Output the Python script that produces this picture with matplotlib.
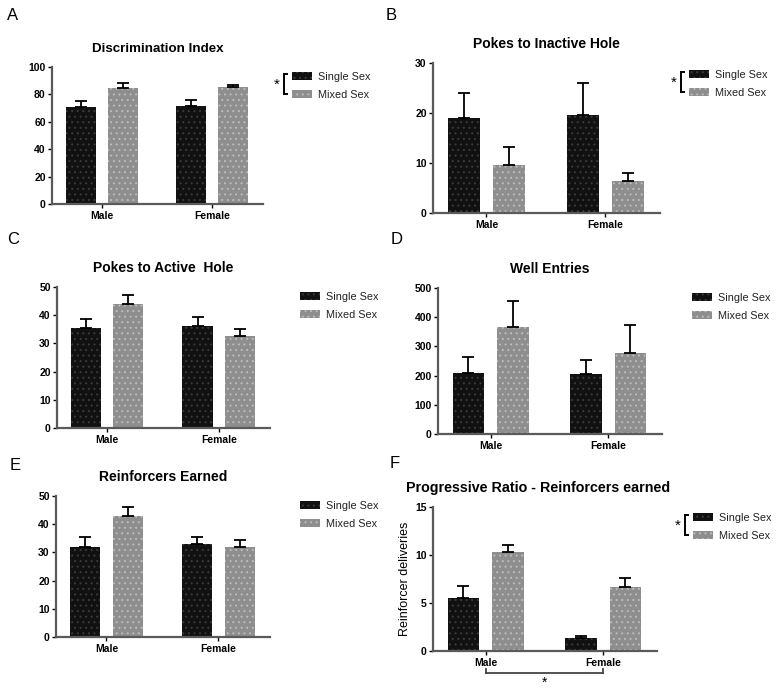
import matplotlib
matplotlib.use('Agg')
import matplotlib.pyplot as plt
import matplotlib.patches as mpatches
from matplotlib.lines import Line2D
import numpy as np

plt.rcParams['font.family'] = ['Liberation Sans', 'DejaVu Sans']
plt.rcParams['hatch.linewidth'] = 0.7

# data (means and upper SEM)
groups = ['Male', 'Female']
series = ['Single Sex', 'Mixed Sex']

disc_single = [70.5, 71.5]
disc_single_err = [4.5, 4.5]
disc_mixed = [85.0, 85.5]
disc_mixed_err = [3.5, 1.5]

inactive_single = [19.0, 19.6]
inactive_single_err = [5.0, 6.4]
inactive_mixed = [9.7, 6.5]
inactive_mixed_err = [3.6, 1.5]

active_single = [35.5, 36.0]
active_single_err = [3.0, 3.5]
active_mixed = [44.0, 32.5]
active_mixed_err = [3.0, 2.5]

wells_single = [210, 205]
wells_single_err = [55, 50]
wells_mixed = [365, 278]
wells_mixed_err = [90, 97]

reinf_single = [32.0, 33.0]
reinf_single_err = [3.5, 2.5]
reinf_mixed = [43.0, 32.0]
reinf_mixed_err = [3.0, 2.5]

pr_single = [5.5, 1.4]
pr_single_err = [1.3, 0.2]
pr_mixed = [10.3, 6.7]
pr_mixed_err = [0.7, 0.9]

W, H = 781, 691
BLACK, BLACK_DOT = '#111111', '#3c3c3c'
GREY, GREY_DOT = '#8e8e8e', '#bdbdbd'


def px_axes(fig, left, right, top, bottom):
    return fig.add_axes([left / W, 1 - bottom / H, (right - left) / W, (bottom - top) / H])


def panel(fig, box, title, single, single_err, mixed, mixed_err, ymax, ystep,
          letter, letter_xy, legend_xy, star=False, ylabel=None, title_size=10,
          title_x=0.5):
    ax = px_axes(fig, *box)
    x = np.arange(len(groups))
    w, off = 0.27, 0.19
    ax.bar(x - off, single, w, color=BLACK, edgecolor=BLACK_DOT, hatch='...', linewidth=0)
    ax.bar(x + off, mixed, w, color=GREY, edgecolor=GREY_DOT, hatch='...', linewidth=0)
    ax.errorbar(x - off, single, yerr=[np.zeros(2), single_err], fmt='none',
                ecolor='black', elinewidth=1.3, capsize=4.5, capthick=1.3)
    ax.errorbar(x + off, mixed, yerr=[np.zeros(2), mixed_err], fmt='none',
                ecolor='black', elinewidth=1.3, capsize=4.5, capthick=1.3)
    ax.set_xlim(-0.45, 1.46)
    ax.set_ylim(0, ymax)
    ax.set_yticks(np.arange(0, ymax + 0.1, ystep))
    ax.set_xticks(x)
    ax.set_xticklabels(groups, fontsize=7.5, fontweight='bold')
    ax.tick_params(axis='y', labelsize=7.5, length=3, width=1, pad=1.5)
    ax.tick_params(axis='x', length=3, width=1, pad=2)
    for lab in ax.get_yticklabels():
        lab.set_fontweight('bold')
    for s in ['top', 'right']:
        ax.spines[s].set_visible(False)
    for s in ['left', 'bottom']:
        ax.spines[s].set_color('#5a5a5a')
        ax.spines[s].set_linewidth(1.6)
    ax.set_title(title, fontsize=title_size, fontweight='bold', pad=11, x=title_x)
    if ylabel:
        ax.set_ylabel(ylabel, fontsize=9, labelpad=3)

    fig.text(letter_xy[0] / W, 1 - letter_xy[1] / H, letter, fontsize=12,
             ha='left', va='center')

    handles = [mpatches.Patch(facecolor=BLACK, edgecolor=BLACK_DOT, hatch='...', linewidth=0),
               mpatches.Patch(facecolor=GREY, edgecolor=GREY_DOT, hatch='...', linewidth=0)]
    lx, ly = legend_xy
    fig.legend(handles, series, loc='upper left',
               bbox_to_anchor=(lx / W, 1 - ly / H), frameon=False,
               fontsize=7.8, handlelength=1.8, handleheight=0.8,
               handletextpad=0.6, labelspacing=0.7, borderaxespad=0,
               borderpad=0, labelcolor='#222222')
    if star:
        bx = lx - 8
        y0, y1 = ly + 2, ly + 22
        fig.add_artist(Line2D([bx / W, bx / W], [1 - y0 / H, 1 - y1 / H],
                              color='black', lw=1.4))
        for yy in (y0, y1):
            fig.add_artist(Line2D([bx / W, (bx + 3) / W], [1 - yy / H, 1 - yy / H],
                                  color='black', lw=1.4))
        fig.text((bx - 7) / W, 1 - (ly + 13) / H, '*', fontsize=11,
                 ha='center', va='center')
    return ax


def main():
    fig = plt.figure(figsize=(W / 100, H / 100), dpi=100)

    panel(fig, (52, 263, 67, 204), 'Discrimination Index',
          disc_single, disc_single_err, disc_mixed, disc_mixed_err, 100, 20,
          'A', (7, 15), (292, 72), star=True, title_size=9.6)
    panel(fig, (433, 660, 63, 213), 'Pokes to Inactive Hole',
          inactive_single, inactive_single_err, inactive_mixed, inactive_mixed_err, 30, 10,
          'B', (386, 15), (689, 70), star=True)
    panel(fig, (57, 270, 287, 428), 'Pokes to Active  Hole',
          active_single, active_single_err, active_mixed, active_mixed_err, 50, 10,
          'C', (7, 240), (300, 292))
    panel(fig, (438, 662, 288, 434), 'Well Entries',
          wells_single, wells_single_err, wells_mixed, wells_mixed_err, 500, 100,
          'D', (391, 240), (692, 293))
    panel(fig, (56, 270, 496, 637), 'Reinforcers Earned',
          reinf_single, reinf_single_err, reinf_mixed, reinf_mixed_err, 50, 10,
          'E', (10, 466), (300, 501))
    ax = panel(fig, (433, 657, 507, 651), 'Progressive Ratio - Reinforcers earned',
               pr_single, pr_single_err, pr_mixed, pr_mixed_err, 15, 5,
               'F', (390, 463), (693, 513), star=True, ylabel='Reinforcer deliveries',
               title_size=10.3, title_x=0.47)

    # sex comparison bracket under panel F
    tr = ax.get_xaxis_transform()
    yb = -0.15
    ax.plot([0, 1], [yb, yb], transform=tr, color='#444444', lw=1.3, clip_on=False)
    for xx in (0, 1):
        ax.plot([xx, xx], [yb, yb + 0.025], transform=tr, color='#444444', lw=1.3,
                clip_on=False)
    ax.text(0.5, yb - 0.07, '*', transform=tr, ha='center', va='center', fontsize=10)

    plt.savefig('out.png', dpi=100)


if __name__ == '__main__':
    main()
